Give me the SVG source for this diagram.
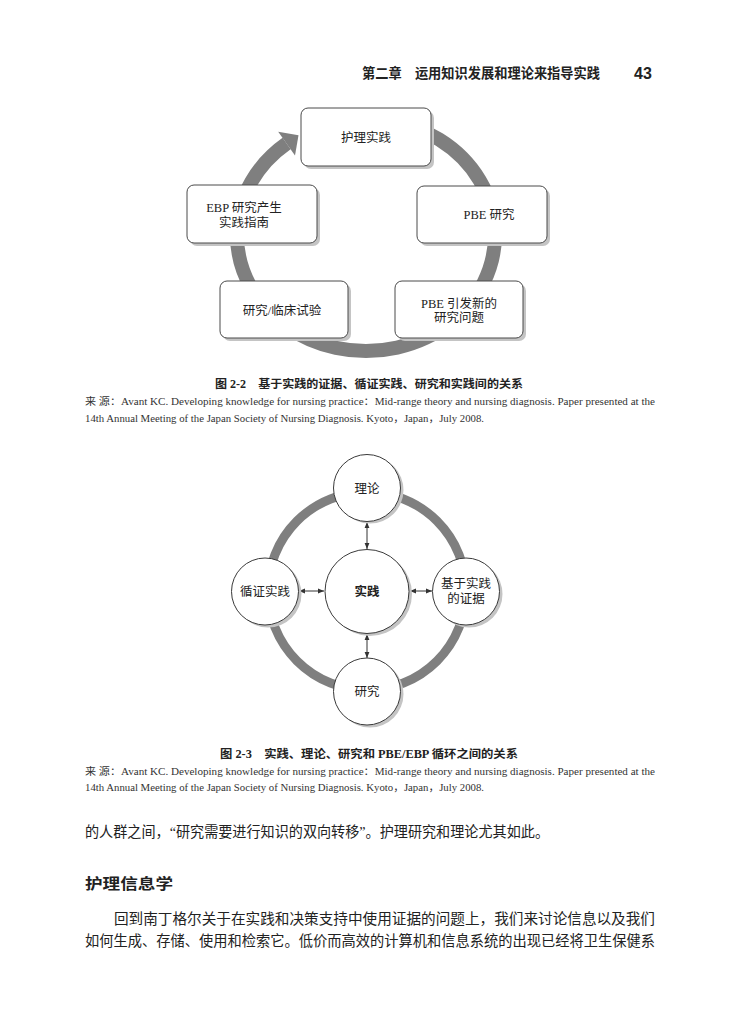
<svg xmlns="http://www.w3.org/2000/svg" width="730" height="1017" viewBox="0 0 730 1017">
<defs>
<style>
.bg{fill:#ffffff}
.box{fill:#ffffff;stroke:#4a4a4a;stroke-width:1}
.shadow{fill:#c4c4c4}
.ring1{fill:none;stroke:#7f7f7f;stroke-width:14}
.ring2{fill:none;stroke:#7f7f7f;stroke-width:9}
.circ{fill:#ffffff;stroke:#3a3a3a;stroke-width:1}
.t{font-family:"Liberation Serif","Noto Sans CJK SC",serif;fill:#222;text-anchor:middle}
.lbl{font-size:12.5px}
.hdr{font-family:"Liberation Sans","Noto Sans CJK SC",sans-serif;font-weight:bold;fill:#222}
.cap{font-family:"Liberation Serif","Noto Sans CJK SC",serif;font-weight:bold;font-size:11.5px;fill:#222}
.src{font-family:"Liberation Serif","Noto Sans CJK SC",serif;font-size:10px;fill:#333}
.body{font-family:"Liberation Serif","Noto Sans CJK SC",serif;font-size:14.6px;fill:#222}
.link{stroke:#333;stroke-width:1;fill:none;marker-start:url(#ah);marker-end:url(#ah)}
</style>
<marker id="ah" viewBox="0 0 10 10" refX="10" refY="5" markerWidth="6" markerHeight="6" orient="auto-start-reverse" markerUnits="userSpaceOnUse">
<path d="M0,1 L10,5 L0,9 z" fill="#333"/>
</marker>
</defs>
<rect class="bg" x="0" y="0" width="730" height="1017"/>

<!-- header -->
<text class="hdr" x="362" y="78" font-size="13.8" textLength="238" lengthAdjust="spacingAndGlyphs">第二章　运用知识发展和理论来指导实践</text>
<text class="hdr" x="643" y="79" font-size="16" text-anchor="middle">43</text>

<!-- Figure 2-2 -->
<g id="fig1-connectors">
<path class="ring1" d="M388.4,120.8 A129,116 0 1,1 286.6,143.6"/>
<polygon points="278.2,131.8 298.5,135.2 295.0,155.4" fill="#7f7f7f"/>
</g>
<g id="n-practice">
<rect class="shadow" x="304" y="111" width="130" height="58" rx="7"/>
<rect class="box" x="301" y="108" width="130" height="58" rx="7"/>
<text class="t lbl" x="366" y="141.5">护理实践</text>
</g>
<g id="n-pbe-research">
<rect class="shadow" x="420" y="189" width="130" height="57" rx="7"/>
<rect class="box" x="417" y="186" width="130" height="57" rx="7"/>
<text class="t lbl" x="489" y="219">PBE 研究</text>
</g>
<g id="n-pbe-questions">
<rect class="shadow" x="398" y="284" width="128" height="57" rx="7"/>
<rect class="box" x="395" y="281" width="128" height="57" rx="7"/>
<text class="t lbl" x="459" y="307.5">PBE 引发新的</text>
<text class="t lbl" x="459" y="322">研究问题</text>
</g>
<g id="n-clinical">
<rect class="shadow" x="223" y="284" width="128" height="57" rx="7"/>
<rect class="box" x="220" y="281" width="128" height="57" rx="7"/>
<text class="t lbl" x="282" y="314.5">研究/临床试验</text>
</g>
<g id="n-ebp">
<rect class="shadow" x="190" y="188" width="130" height="58" rx="7"/>
<rect class="box" x="187" y="185" width="130" height="58" rx="7"/>
<text class="t lbl" x="244" y="211.5">EBP 研究产生</text>
<text class="t lbl" x="244" y="226.5">实践指南</text>
</g>

<text class="cap" x="215" y="387.5" textLength="308" lengthAdjust="spacingAndGlyphs">图 2-2　基于实践的证据、循证实践、研究和实践间的关系</text>
<text class="src" x="85" y="404.5" textLength="570" lengthAdjust="spacingAndGlyphs">来 源：Avant KC. Developing knowledge for nursing practice：Mid-range theory and nursing diagnosis. Paper presented at the</text>
<text class="src" x="85" y="421.5" textLength="399" lengthAdjust="spacingAndGlyphs">14th Annual Meeting of the Japan Society of Nursing Diagnosis. Kyoto，Japan，July 2008.</text>

<!-- Figure 2-3 -->
<g id="fig2-connectors">
<circle class="ring2" cx="367" cy="591" r="99"/>
<line class="link" x1="367" y1="522" x2="367" y2="549"/>
<line class="link" x1="367" y1="634" x2="367" y2="658"/>
<line class="link" x1="299" y1="591" x2="324" y2="591"/>
<line class="link" x1="410" y1="591" x2="432" y2="591"/>
</g>
<g id="c-theory">
<circle class="shadow" cx="370" cy="490" r="33.5"/>
<circle class="circ" cx="367" cy="488" r="33.5"/>
<text class="t lbl" x="367" y="492.5">理论</text>
</g>
<g id="c-practice">
<circle class="shadow" cx="370" cy="594" r="42"/>
<circle class="circ" cx="367" cy="591.5" r="42"/>
<text class="t lbl" x="367" y="596" font-weight="bold">实践</text>
</g>
<g id="c-ebp">
<circle class="shadow" cx="268" cy="594" r="33.5"/>
<circle class="circ" cx="265" cy="591.5" r="33.5"/>
<text class="t lbl" x="265" y="596">循证实践</text>
</g>
<g id="c-pbe">
<circle class="shadow" cx="469" cy="594" r="33.5"/>
<circle class="circ" cx="466" cy="591.5" r="33.5"/>
<text class="t lbl" x="466" y="588">基于实践</text>
<text class="t lbl" x="466" y="603">的证据</text>
</g>
<g id="c-research">
<circle class="shadow" cx="370" cy="694" r="33.5"/>
<circle class="circ" cx="367" cy="691.5" r="33.5"/>
<text class="t lbl" x="367" y="696">研究</text>
</g>

<text class="cap" x="220" y="757.5" textLength="298" lengthAdjust="spacingAndGlyphs">图 2-3　实践、理论、研究和 PBE/EBP 循环之间的关系</text>
<text class="src" x="85" y="774.5" textLength="570" lengthAdjust="spacingAndGlyphs">来 源：Avant KC. Developing knowledge for nursing practice：Mid-range theory and nursing diagnosis. Paper presented at the</text>
<text class="src" x="85" y="790.5" textLength="399" lengthAdjust="spacingAndGlyphs">14th Annual Meeting of the Japan Society of Nursing Diagnosis. Kyoto，Japan，July 2008.</text>

<!-- body text -->
<text class="body" x="85" y="837" textLength="464" lengthAdjust="spacingAndGlyphs">的人群之间，“研究需要进行知识的双向转移”。护理研究和理论尤其如此。</text>
<text class="body" x="85" y="889" font-size="18.5" font-weight="bold" textLength="88" lengthAdjust="spacingAndGlyphs">护理信息学</text>
<text class="body" x="114" y="924" textLength="541" lengthAdjust="spacingAndGlyphs">回到南丁格尔关于在实践和决策支持中使用证据的问题上，我们来讨论信息以及我们</text>
<text class="body" x="85" y="946" textLength="570" lengthAdjust="spacingAndGlyphs">如何生成、存储、使用和检索它。低价而高效的计算机和信息系统的出现已经将卫生保健系</text>
</svg>
